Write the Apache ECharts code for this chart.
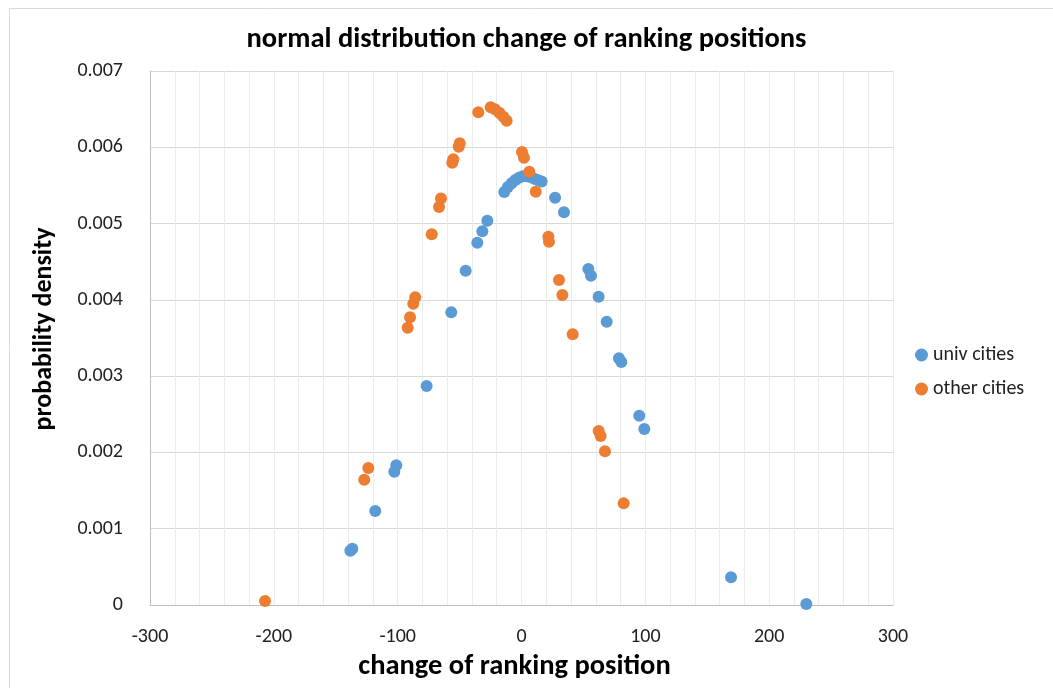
<!DOCTYPE html>
<html>
<head>
<meta charset="utf-8">
<script src="https://cdn.jsdelivr.net/npm/echarts@6/dist/echarts.min.js"></script>
<style>
html,body{margin:0;padding:0;background:#fff;}
#c{width:1053px;height:688px;}
</style>
</head>
<body>
<div id="c"></div>
<script>
var titleText = 'normal distribution change of ranking positions';
var xAxisTitle = 'change of ranking position';
var yAxisTitle = 'probability density';
var seriesNames = ['univ cities', 'other cities'];

var univCities = [
  [-138.2,0.000712],[-136.6,0.000738],[-118.1,0.001232],[-102.7,0.001748],[-101.1,0.001831],
  [-76.6,0.002871],[-56.7,0.003836],[-45.1,0.004382],[-35.7,0.004749],[-31.6,0.004898],
  [-27.6,0.005038],[-13.9,0.005413],[-11,0.00548],[-8,0.00553],[-5,0.00557],[-2,0.00560],
  [1,0.00562],[4,0.00562],[7,0.00561],[10,0.00559],[13,0.00557],[16.3,0.00555],
  [27.1,0.005339],[34.3,0.005147],[54.0,0.004404],[56.1,0.004317],[62.3,0.004041],
  [68.8,0.003714],[78.7,0.003234],[80.6,0.003185],[95.1,0.002481],[99.2,0.002307],
  [169.2,0.000363],[230.0,0.000013]
];
var otherCities = [
  [-207.1,0.000052],[-127.0,0.001642],[-123.7,0.001796],[-91.9,0.003635],[-90.0,0.003771],
  [-87.4,0.003950],[-85.8,0.004033],[-72.5,0.004859],[-66.6,0.005217],[-65.0,0.005330],
  [-55.9,0.005798],[-55.1,0.005842],[-50.7,0.006008],[-49.9,0.006052],[-34.9,0.006458],
  [-24.9,0.006524],[-21.4,0.006497],[-17.9,0.006453],[-14.7,0.006401],[-12.0,0.006349],
  [0.4,0.005938],[2.0,0.005863],[6.3,0.005680],[11.5,0.005418],[21.7,0.004828],
  [22.2,0.004762],[30.3,0.004260],[33.0,0.004063],[41.3,0.003548],[62.3,0.002281],
  [63.9,0.002215],[67.4,0.002015],[82.5,0.001333]
];

var FONT = 'Carlito, Calibri, Lato, sans-serif';
var chart = echarts.init(document.getElementById('c'), null, {renderer: 'canvas'});
chart.setOption({
  animation: false,
  backgroundColor: '#fff',
  graphic: [{
    type: 'rect', left: 7, top: 6, silent: true,
    shape: {width: 1044, height: 680},
    style: {fill: 'none', stroke: '#d9d9d9', lineWidth: 1}
  }],
  title: {
    text: titleText, left: 'center', top: 20,
    textStyle: {fontFamily: FONT, fontSize: 28.5, fontWeight: 'bold', color: '#000'}
  },
  legend: {
    orient: 'vertical', left: 910, top: 340,
    icon: 'circle', itemWidth: 13, itemHeight: 13, itemGap: 14,
    textStyle: {fontFamily: FONT, fontSize: 20, color: '#222'},
    data: seriesNames
  },
  grid: {left: 150, right: 160, top: 71, bottom: 83, containLabel: false},
  xAxis: {
    type: 'value', min: -300, max: 300, interval: 100,
    name: xAxisTitle, nameLocation: 'middle', nameGap: 41,
    nameTextStyle: {fontFamily: FONT, fontSize: 28.5, fontWeight: 'bold', color: '#000', padding: [0, 14, 0, 0]},
    axisLine: {show: true, onZero: false, lineStyle: {color: '#bfbfbf'}},
    axisTick: {show: false},
    minorTick: {show: false, splitNumber: 5},
    splitLine: {show: true, lineStyle: {color: '#ebebeb'}},
    minorSplitLine: {show: true, lineStyle: {color: '#ebebeb'}},
    axisLabel: {fontFamily: FONT, fontSize: 20, color: '#222', margin: 22}
  },
  yAxis: {
    type: 'value', min: 0, max: 0.007, interval: 0.001,
    name: yAxisTitle, nameLocation: 'middle', nameGap: 93,
    nameTextStyle: {fontFamily: FONT, fontSize: 26, fontWeight: 'bold', color: '#000', padding: [0, 0, 0, 18]},
    axisLine: {show: true, onZero: false, lineStyle: {color: '#bfbfbf'}},
    axisTick: {show: false},
    splitLine: {show: true, lineStyle: {color: '#d9d9d9'}},
    axisLabel: {
      fontFamily: FONT, fontSize: 20, color: '#222', margin: 27,
      formatter: function (v) { return v === 0 ? '0' : v.toFixed(3); }
    }
  },
  series: [
    {name: seriesNames[0], type: 'scatter', data: univCities, symbolSize: 12,
     itemStyle: {color: '#5b9bd5', opacity: 1}},
    {name: seriesNames[1], type: 'scatter', data: otherCities, symbolSize: 12,
     itemStyle: {color: '#ed7d31', opacity: 1}}
  ]
});
</script>
</body>
</html>
